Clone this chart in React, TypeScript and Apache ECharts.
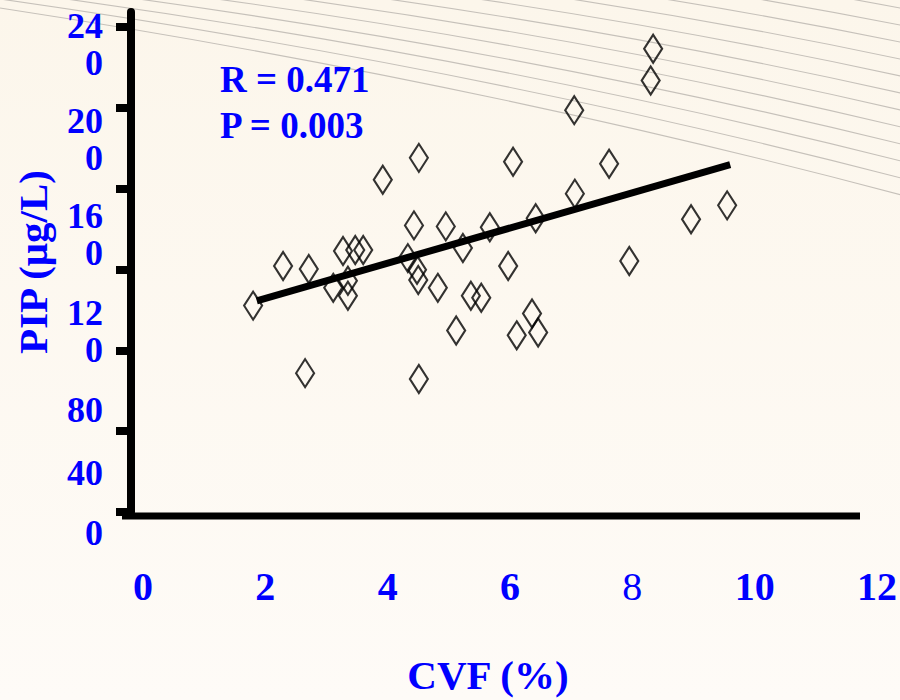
import React, { useEffect, useRef } from 'react';
import * as echarts from 'echarts';

// CVF (%) per subject
const cvf = [1.80, 2.29, 2.71, 2.65, 3.11, 3.27, 3.35, 3.35, 3.47, 3.60, 3.92, 4.33, 4.43, 4.48, 4.50, 4.51, 4.51, 4.82, 4.95, 5.12, 5.23, 5.36, 5.53, 5.67, 5.97, 6.05, 6.11, 6.36, 6.42, 6.46, 7.05, 7.06, 7.62, 7.95, 8.30, 8.34, 8.96, 9.55];
// PIP (µg/L) per subject
const pip = [102.1, 121.7, 120.2, 68.7, 110.9, 129.1, 114.4, 107.0, 129.6, 129.6, 164.4, 125.6, 141.8, 119.8, 114.8, 175.2, 65.8, 110.9, 141.3, 89.8, 130.6, 107.0, 106.0, 140.9, 121.7, 173.3, 87.4, 98.2, 145.3, 88.8, 198.8, 157.5, 172.3, 124.2, 213.5, 229.2, 144.8, 151.7];
// regression line end points
const fitX = [1.86, 9.6];
const fitY = [104.5, 171.8];

const xTickLabels = [0, 2, 4, 6, 8, 10, 12];
const yTicks = [0, 40, 80, 120, 160, 200, 240];
// tick labels as printed (wrapped) and the axis value each one sits at
const yLabelTexts = ['24\n0', '20\n0', '16\n0', '0', '12\n0', '80', '40'];
const yLabelAt = [231.2, 184.5, 137.4, 0, 89.3, 50.6, 19.1];
const statTexts = ['R = 0.471', 'P = 0.003'];

const FONT = "'Liberation Serif', 'Times New Roman', serif";
const BLUE = '#0000FF';

export default function App() {
  const ref = useRef<HTMLDivElement>(null);
  useEffect(() => {
    if (!ref.current) return;
    const chart = echarts.init(ref.current, null, { renderer: 'svg' });

    const curves: any[] = [];
    for (let i = 0; i < 13; i++) {
      curves.push({
        type: 'bezierCurve',
        silent: true,
        z: -90,
        shape: {
          x1: 0, y1: 8 - 9 * i,
          cpx1: 470, cpy1: 80 - 14 * i,
          x2: 905, y2: 196 - 17 * i,
        },
        style: { stroke: '#c6c1ba', lineWidth: 1.1, fill: null },
      });
    }

    const option: any = {
      animation: false,
      backgroundColor: 'transparent',
      grid: { left: 131, top: 12, right: 23, bottom: 184, containLabel: false },
      xAxis: {
        type: 'value',
        min: -12 / ((877 - 143) / 12),
        max: 12,
        axisLine: { show: false },
        axisTick: { show: false },
        splitLine: { show: false },
        axisLabel: {
          customValues: xTickLabels,
          showMinLabel: true,
          showMaxLabel: true,
          margin: 54,
          fontSize: 40,
          lineHeight: 40,
          fontWeight: 'bold',
          fontFamily: FONT,
          color: BLUE,
          formatter: (v: number) => (v === 8 ? '{n|8}' : String(v)),
          rich: {
            n: { fontSize: 40, lineHeight: 40, fontWeight: 'normal', fontFamily: FONT, color: BLUE },
          },
        },
        name: 'CVF (%)',
        nameLocation: 'middle',
        nameGap: 142,
        nameTextStyle: {
          fontSize: 41, fontWeight: 'bold', fontFamily: FONT, color: BLUE,
          padding: [0, 32, 0, 0],
        },
      },
      yAxis: {
        type: 'value',
        min: 0,
        max: (516 - 12) / ((516 - 27) / 240),
        axisLine: { show: true, onZero: false, lineStyle: { color: '#000', width: 8 } },
        axisTick: { show: true, customValues: yTicks, length: 15, lineStyle: { color: '#000', width: 8 } },
        splitLine: { show: false },
        axisLabel: {
          customValues: yLabelAt,
          showMinLabel: true,
          showMaxLabel: true,
          margin: 28,
          fontSize: 36,
          lineHeight: 37,
          fontWeight: 'bold',
          fontFamily: FONT,
          color: BLUE,
          formatter: (v: number) => {
            let idx = 0;
            let best = Infinity;
            yLabelAt.forEach((a, i) => {
              const d = Math.abs(a - v);
              if (d < best) { best = d; idx = i; }
            });
            const t = yLabelTexts[idx];
            return yLabelAt[idx] === 0 ? '{z|' + t + '}' : t;
          },
          rich: {
            z: { fontSize: 36, lineHeight: 37, fontWeight: 'bold', fontFamily: FONT, color: BLUE, padding: [42, 0, 0, 0] },
          },
        },
        name: 'PIP (μg/L)',
        nameLocation: 'middle',
        nameRotate: 90,
        nameGap: 78,
        nameTextStyle: { fontSize: 41, fontWeight: 'bold', fontFamily: FONT, color: BLUE },
      },
      graphic: [
        {
          type: 'rect', silent: true, z: -100,
          shape: { x: 0, y: 0, width: 900, height: 700 },
          style: {
            fill: new echarts.graphic.LinearGradient(0, 0, 0, 1, [
              { offset: 0, color: '#FCF6EB' },
              { offset: 1, color: '#FEFBF7' },
            ]),
          },
        },
        ...curves,
        {
          type: 'line', silent: true, z: 5,
          shape: { x1: 122, y1: 516, x2: 860, y2: 516 },
          style: { stroke: '#000', lineWidth: 7 },
        },
        {
          type: 'text', z: 10, left: 220, top: 61,
          style: { text: statTexts[0], fontSize: 37, fontWeight: 'bold', fontFamily: FONT, fill: BLUE },
        },
        {
          type: 'text', z: 10, left: 220, top: 107,
          style: { text: statTexts[1], fontSize: 37, fontWeight: 'bold', fontFamily: FONT, fill: BLUE },
        },
      ],
      series: [
        {
          type: 'scatter',
          data: cvf.map((x, i) => [x, pip[i]]),
          symbol: 'diamond',
          symbolSize: [18, 28],
          itemStyle: { color: 'transparent', borderColor: '#000', borderWidth: 2.2 },
          z: 3,
        },
        {
          type: 'line',
          data: fitX.map((x, i) => [x, fitY[i]]),
          showSymbol: false,
          symbol: 'none',
          lineStyle: { color: '#000', width: 7 },
          z: 4,
        },
      ],
    };
    chart.setOption(option);
    return () => chart.dispose();
  }, []);

  return (
    <div
      ref={ref}
      style={{ position: 'absolute', left: 0, top: 0, width: 900, height: 700 }}
    />
  );
}
